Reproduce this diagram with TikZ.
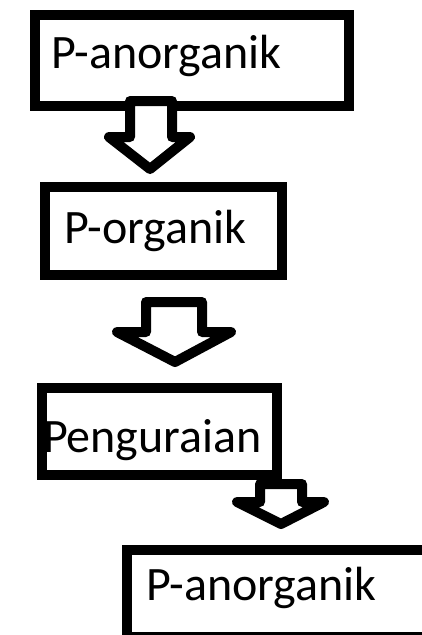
\documentclass[tikz,border=0pt]{standalone}
\usepackage{fontspec}
\setmainfont{Carlito}

\begin{document}
\begin{tikzpicture}[x=1pt, y=-1pt,
		box/.style={draw, line width=10pt, anchor=north west, inner ysep=0pt, align=left, font=\fontsize{48}{56}\selectfont},
		blockarrow/.style={draw, fill=white, line width=10pt, line join=round}]
		\useasboundingbox (0, 0) rectangle (421, 635);

		\node[box, minimum width=314pt, inner xsep=16pt, text width=282pt, text height=53pt, text depth=38pt]	(panorg) at (30, 10) {P-anorganik};
		\node[box, minimum width=237pt, inner xsep=19pt, text width=199pt, text height=56pt, text depth=32pt]	(porg) at (40, 182) {P-organik};
		\node[box, minimum width=235pt, inner xsep=1pt, text width=233pt, text height=64pt, text depth=23pt]	(urai) at (37, 383) {Penguraian};
		\node[box, minimum width=320pt, inner xsep=19pt, text width=282pt, text height=50pt, text depth=37pt]	(panorgb) at (122, 545) {P-anorganik};

		\draw[blockarrow]	(130, 101) -- (130, 137) -- (109, 137) -- (150, 169) -- (190, 137) -- (172, 137) -- (172, 101) -- cycle;
		\draw[blockarrow]	(146, 302) -- (146, 332) -- (117, 332) -- (175, 362) -- (231, 332) -- (202, 332) -- (202, 302) -- cycle;
		\draw[blockarrow]	(260, 484) -- (260, 502) -- (237, 502) -- (281, 524) -- (324, 502) -- (302, 502) -- (302, 484) -- cycle;
	\end{tikzpicture}
\end{document}
